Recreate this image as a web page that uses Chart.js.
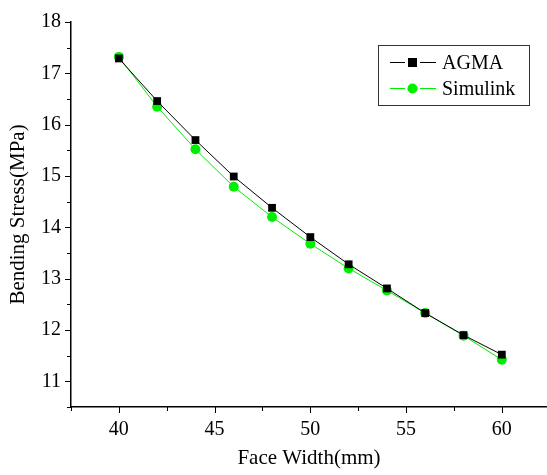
<!DOCTYPE html>
<html>
<head>
<meta charset="utf-8">
<script src="https://cdn.jsdelivr.net/npm/chart.js@4/dist/chart.umd.min.js"></script>
<style>
  html, body { margin: 0; padding: 0; background: #fff; overflow: hidden; }
  canvas { display: block; }
</style>
</head>
<body>
<canvas id="chart" width="547" height="475"></canvas>
<script>
'use strict';

// Data
const faceWidth = [40, 42, 44, 46, 48, 50, 52, 54, 56, 58, 60];
const agma = [17.29, 16.46, 15.70, 14.99, 14.38, 13.81, 13.28, 12.81, 12.33, 11.90, 11.52];
const simulink = [17.32, 16.35, 15.52, 14.79, 14.20, 13.68, 13.20, 12.77, 12.33, 11.89, 11.42];

const xTicks = [40, 45, 50, 55, 60];
const xMinor = [37.5, 42.5, 47.5, 52.5, 57.5, 62.5];
const yTicks = [11, 12, 13, 14, 15, 16, 17, 18];
const yMinor = [10.5, 11.5, 12.5, 13.5, 14.5, 15.5, 16.5, 17.5];

const serif = '"Liberation Serif", "Times New Roman", serif';

function toPoints(xs, ys) {
    return xs.map((x, i) => ({x: x, y: ys[i]}));
}

// Outward tick marks, drawn off the scales
const tickMarks = {
    id: 'tickMarks',
    afterDraw(chart) {
        const ctx = chart.ctx;
        const xs = chart.scales.x, ys = chart.scales.y;
        const area = chart.chartArea;
        ctx.save();
        ctx.strokeStyle = '#000';
        ctx.lineWidth = 1;
        ctx.beginPath();
        xTicks.forEach(v => {
            let px = Math.round(xs.getPixelForValue(v)) + 0.5;
            ctx.moveTo(px, area.bottom); ctx.lineTo(px, area.bottom + 6);
        });
        xMinor.forEach(v => {
            let px = Math.round(xs.getPixelForValue(v)) + 0.5;
            if (px > area.right) return;
            ctx.moveTo(px, area.bottom); ctx.lineTo(px, area.bottom + 4);
        });
        yTicks.forEach(v => {
            let py = Math.round(ys.getPixelForValue(v)) + 0.5;
            ctx.moveTo(area.left, py); ctx.lineTo(area.left - 6, py);
        });
        yMinor.forEach(v => {
            let py = Math.round(ys.getPixelForValue(v)) + 0.5;
            ctx.moveTo(area.left, py); ctx.lineTo(area.left - 4, py);
        });
        ctx.stroke();
        ctx.restore();
    }
};

// Legend box with line-marker-line samples
const boxLegend = {
    id: 'boxLegend',
    afterDraw(chart) {
        const ctx = chart.ctx;
        const left = 378, top = 45, w = 151, h = 60;
        ctx.save();
        ctx.strokeStyle = '#333';
        ctx.lineWidth = 1;
        ctx.strokeRect(left + 0.5, top + 0.5, w, h);
        ctx.font = '20px ' + serif;
        ctx.textBaseline = 'middle';
        chart.data.datasets.forEach((ds, i) => {
            let y = top + 17 + i * 26 + 0.5;
            ctx.strokeStyle = ds.borderColor;
            ctx.beginPath();
            ctx.moveTo(left + 12, y); ctx.lineTo(left + 27, y);
            ctx.moveTo(left + 42, y); ctx.lineTo(left + 58, y);
            ctx.stroke();
            ctx.fillStyle = ds.pointBackgroundColor;
            if (ds.pointStyle === 'rect') {
                ctx.fillRect(left + 30, y - 4.5, 9, 9);
            } else {
                ctx.beginPath();
                ctx.arc(left + 34.5, y, 5, 0, Math.PI * 2);
                ctx.fill();
            }
            ctx.fillStyle = '#000';
            ctx.fillText(ds.label, left + 64, y + 1);
        });
        ctx.restore();
    }
};

new Chart(document.getElementById('chart'), {
    type: 'scatter',
    data: {
        datasets: [{
            label: 'AGMA',
            data: toPoints(faceWidth, agma),
            showLine: true,
            borderColor: '#000000',
            backgroundColor: '#000000',
            pointBackgroundColor: '#000000',
            pointBorderColor: '#000000',
            borderWidth: 1,
            pointStyle: 'rect',
            pointRadius: 5.5,
            pointBorderWidth: 0
        }, {
            label: 'Simulink',
            data: toPoints(faceWidth, simulink),
            showLine: true,
            borderColor: '#00ee00',
            backgroundColor: '#00ee00',
            pointBackgroundColor: '#00ee00',
            pointBorderColor: '#00ee00',
            borderWidth: 1,
            pointStyle: 'circle',
            pointRadius: 5,
            pointBorderWidth: 0
        }]
    },
    options: {
        responsive: false,
        animation: false,
        layout: {autoPadding: false, padding: {top: 18, right: 0, left: 0, bottom: 0}},
        plugins: {
            legend: {display: false},
            tooltip: {enabled: false}
        },
        scales: {
            x: {
                type: 'linear',
                min: 37.5,
                max: 62.36,
                afterBuildTicks: s => { s.ticks = xTicks.map(v => ({value: v})); },
                afterFit: s => { s.height = 68; s.paddingLeft = 0; s.paddingRight = 0; },
                grid: {display: false, drawTicks: false},
                border: {display: true, color: '#000', width: 1.5},
                ticks: {
                    color: '#000',
                    padding: 11,
                    maxRotation: 0,
                    font: {family: serif, size: 20}
                },
                title: {
                    display: true,
                    text: 'Face Width(mm)',
                    color: '#000',
                    padding: {top: 16},
                    font: {family: serif, size: 21}
                }
            },
            y: {
                type: 'linear',
                min: 10.5,
                max: 18,
                afterBuildTicks: s => { s.ticks = yTicks.map(v => ({value: v})); },
                afterFit: s => { s.width = 71; },
                grid: {display: false, drawTicks: false},
                border: {display: true, color: '#000', width: 1.5},
                ticks: {
                    color: '#000',
                    padding: 10,
                    font: {family: serif, size: 20}
                },
                title: {
                    display: true,
                    text: 'Bending Stress(MPa)',
                    color: '#000',
                    padding: {top: 6, bottom: 0},
                    font: {family: serif, size: 21}
                }
            }
        }
    },
    plugins: [tickMarks, boxLegend]
});
</script>
</body>
</html>
